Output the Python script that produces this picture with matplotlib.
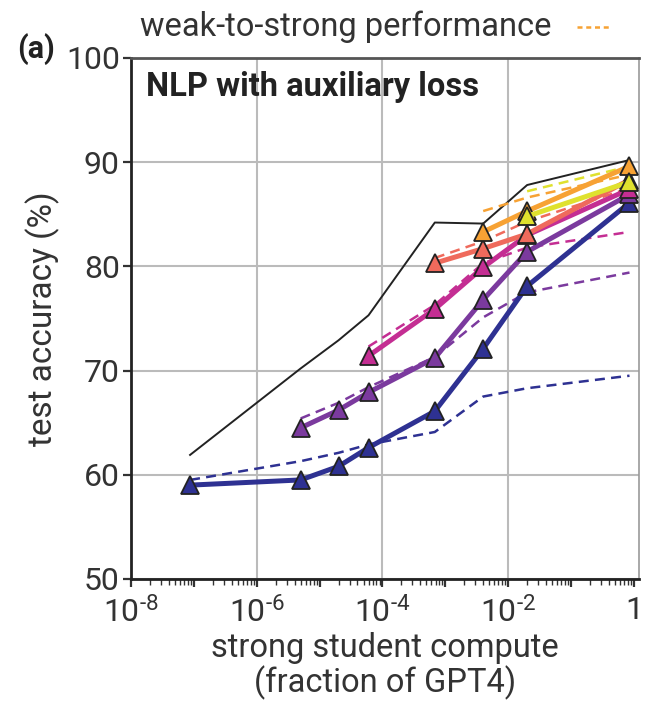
import matplotlib
matplotlib.use("Agg")
import matplotlib.pyplot as plt
from matplotlib.ticker import LogLocator, FixedLocator, NullFormatter
from matplotlib.lines import Line2D

plt.rcParams['font.family'] = ['Roboto', 'DejaVu Sans']
plt.rcParams['mathtext.fontset'] = 'custom'
plt.rcParams['mathtext.rm'] = 'Roboto'
plt.rcParams['mathtext.bf'] = 'Roboto:bold'

# compute fraction of GPT4 for each strong student
compute = [8.7e-8, 5e-6, 2e-5, 6e-5, 6.8e-4, 4e-3, 2e-2, 0.85]

# solid lines: one per weak supervisor, starting index into compute
starts = [0, 1, 3, 4, 5, 6]
solid_acc = [
    [59.0, 59.5, 60.8, 62.6, 66.1, 72.1, 78.1, 86.1],
    [64.5, 66.2, 67.9, 71.2, 76.8, 81.4, 86.9],
    [71.4, 75.9, 79.9, 83.0, 87.4],
    [80.3, 81.7, 83.1, 88.3],
    [83.3, 85.3, 89.6],
    [84.8, 88.1],
]
dashed_acc = [
    [59.5, 61.3, 62.1, 62.9, 64.1, 67.5, 68.3, 69.5],
    [65.4, 66.9, 68.4, 71.3, 75.1, 77.5, 79.4],
    [72.3, 76.3, 80.3, 81.8, 83.3],
    [80.8, 82.4, 84.3, 87.5],
    [85.3, 86.6, 88.8],
    [87.2, 89.6],
]
ceiling_acc = [61.9, 70.2, 72.9, 75.3, 84.2, 84.1, 87.8, 90.2]

colors = ['#2e3192', '#7b3a9e', '#c42e93', '#ef6a5c', '#f7a234', '#dfe12e']

fig = plt.figure(figsize=(6.47, 7.06), dpi=100)
ax = fig.add_axes([0.2025, 0.18, 0.785, 0.738])

ax.plot(compute, ceiling_acc, color='#222222', lw=1.4, zorder=2)

for i in range(6):
    xs = compute[starts[i]:]
    ax.plot(xs, dashed_acc[i], color=colors[i], lw=1.8, ls=(0, (4, 2.5)), zorder=2)

for i in range(6):
    xs = compute[starts[i]:]
    ax.plot(xs, solid_acc[i], color=colors[i], lw=3.6, marker='^', ms=13,
            mec='#222222', mew=1.3, zorder=3 + i)

ax.set_xscale('log')
ax.set_xlim(1e-8, 1.2)
ax.set_ylim(50, 100)

ax.xaxis.set_minor_locator(LogLocator(base=10, subs=range(2, 10), numticks=20))
ax.xaxis.set_minor_formatter(NullFormatter())
xlabels = {-8: r'$\mathregular{10^{\text{-}8}}$', -6: r'$\mathregular{10^{\text{-}6}}$',
           -4: r'$\mathregular{10^{\text{-}4}}$', -2: r'$\mathregular{10^{\text{-}2}}$', 0: '1'}
ax.xaxis.set_major_locator(FixedLocator([10.0 ** e for e in range(-8, 1)]))
ax.set_xticklabels([xlabels.get(e, '') for e in range(-8, 1)])
ax.set_yticks([50, 60, 70, 80, 90, 100])

ax.tick_params(axis='both', which='major', labelsize=23, colors='#333333',
               length=6, width=1.6)
ax.tick_params(axis='x', which='minor', length=4, width=1.0, color='#333333')
ax.tick_params(axis='x', which='major', pad=6)
ax.tick_params(axis='y', which='major', pad=2)

ax.grid(True, which='major', axis='y', color='#bbbbbb', lw=1.5, zorder=0)
for e in [-6, -4, -2]:
    ax.axvline(10.0 ** e, color='#bbbbbb', lw=1.5, zorder=0)

ax.spines['left'].set_linewidth(2)
ax.spines['left'].set_color('#222222')
ax.spines['bottom'].set_linewidth(2)
ax.spines['bottom'].set_color('#222222')
ax.spines['top'].set_linewidth(2)
ax.spines['top'].set_color('#555555')
ax.spines['right'].set_linewidth(1.2)
ax.spines['right'].set_color('#999999')

ax.set_xlabel('strong student compute\n(fraction of GPT4)', fontsize=23.5,
              color='#333333', linespacing=1.05, labelpad=3)
ax.set_ylabel('test accuracy (%)', fontsize=24, color='#333333', labelpad=4)

ax.text(0.03, 0.975, 'NLP with auxiliary loss', transform=ax.transAxes,
        fontsize=23.5, fontweight='bold', color='#222222', va='top', ha='left')

fig.text(0.216, 0.962, 'weak-to-strong performance', fontsize=23.5,
         color='#333333', va='center', ha='left')
fig.add_artist(Line2D([0.892, 0.946], [0.962, 0.962], transform=fig.transFigure,
                      color='#f7a234', lw=1.8, ls=(0, (2, 1.5))))
fig.text(0.026, 0.93, '(a)', fontsize=22, fontweight='bold', color='#222222',
         va='center', ha='left')

fig.savefig('out.png', dpi=100)
